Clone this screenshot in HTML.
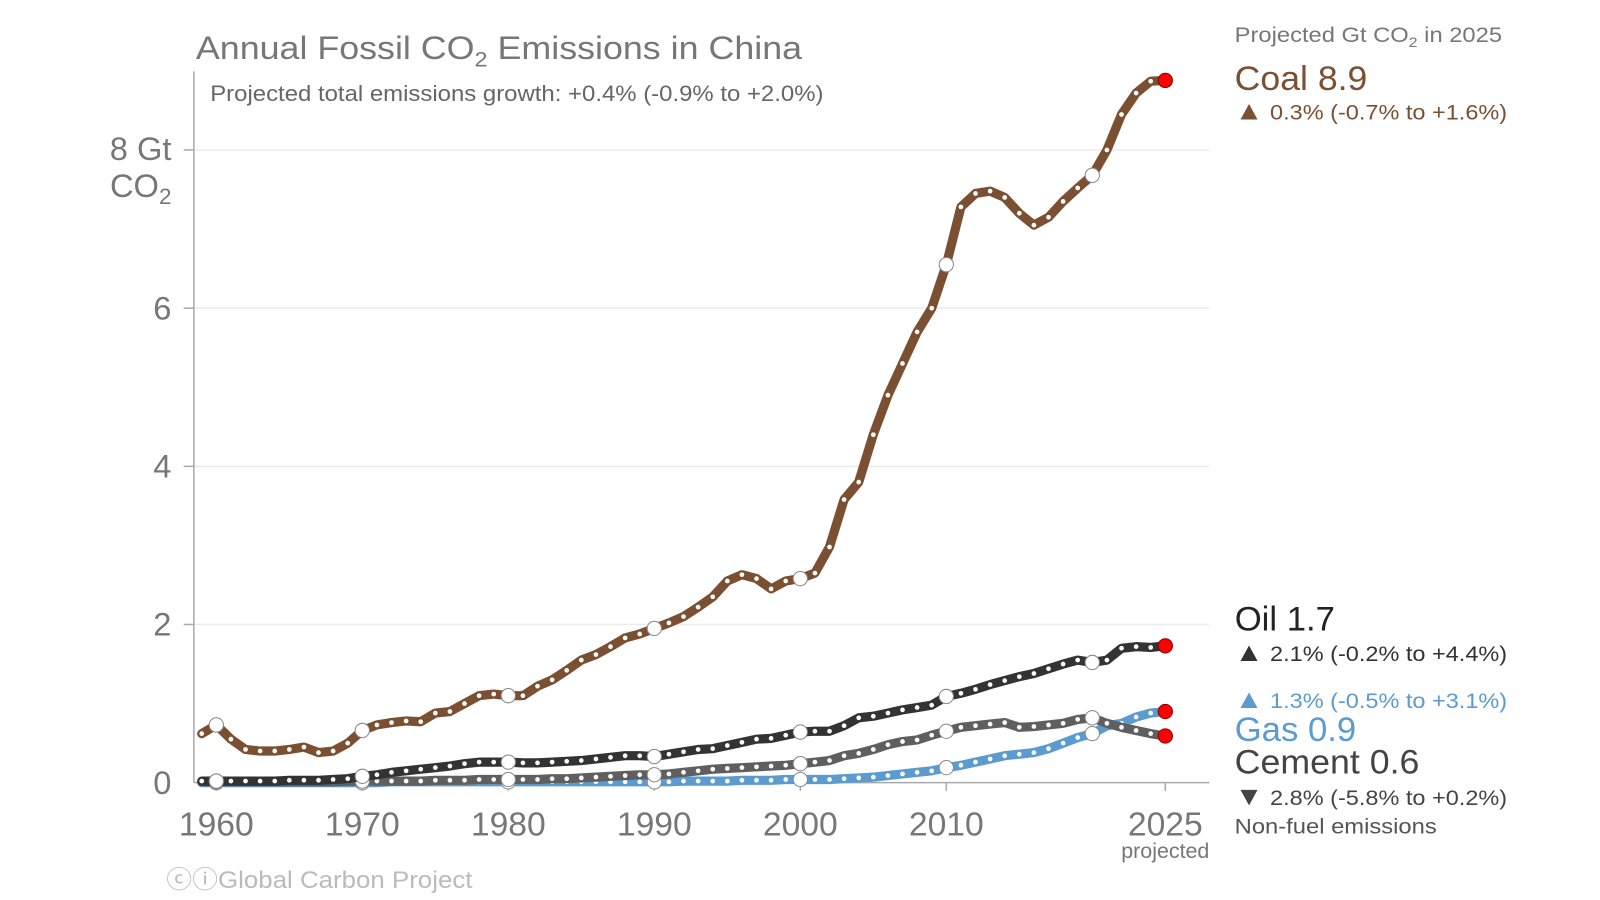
<!DOCTYPE html>
<html><head><meta charset="utf-8"><style>
html,body{margin:0;padding:0;background:#fff;}
svg{display:block;font-family:"Liberation Sans",sans-serif;}
</style></head><body>
<svg id="chart" width="1600" height="900" viewBox="0 0 1568 882">
<g id="grid"></g>
<g id="axes"></g>
<g id="series"></g>
<text x="192" y="58" font-size="32" fill="#777" textLength="594" lengthAdjust="spacingAndGlyphs">Annual Fossil CO<tspan font-size="21" dy="7">2</tspan><tspan dy="-7"> Emissions in China</tspan></text>
<text x="206" y="99" font-size="22" fill="#666" textLength="601" lengthAdjust="spacingAndGlyphs">Projected total emissions growth: +0.4% (-0.9% to +2.0%)</text>
<text x="168" y="157" font-size="32" fill="#777" text-anchor="end">8 Gt</text>
<text x="168" y="193" font-size="32" fill="#777" text-anchor="end">CO<tspan font-size="22" dy="7">2</tspan></text>
<text x="1142" y="841" font-size="21" fill="#777" text-anchor="middle">projected</text>
<text x="163" y="870" font-size="24" fill="#bbb" textLength="300" lengthAdjust="spacingAndGlyphs">ⓒⓘGlobal Carbon Project</text>
<g font-size="21">
<text x="1210" y="41" fill="#777" textLength="262" lengthAdjust="spacingAndGlyphs">Projected Gt CO<tspan font-size="14" dy="5">2</tspan><tspan dy="-5"> in 2025</tspan></text>
<text x="1210" y="88" font-size="34" fill="#7b5032" textLength="130" lengthAdjust="spacingAndGlyphs">Coal 8.9</text>
<text x="1210" y="117" fill="#7b5032" textLength="267" lengthAdjust="spacingAndGlyphs"><tspan font-size="26">▲</tspan> 0.3% (-0.7% to +1.6%)</text>
<text x="1210" y="618" font-size="34" fill="#222">Oil 1.7</text>
<text x="1210" y="648" fill="#333" textLength="267" lengthAdjust="spacingAndGlyphs"><tspan font-size="26">▲</tspan> 2.1% (-0.2% to +4.4%)</text>
<text x="1210" y="694" fill="#5b9bd0" textLength="267" lengthAdjust="spacingAndGlyphs"><tspan font-size="26">▲</tspan> 1.3% (-0.5% to +3.1%)</text>
<text x="1210" y="726" font-size="34" fill="#5b9bd0">Gas 0.9</text>
<text x="1210" y="758" font-size="34" fill="#444" textLength="181" lengthAdjust="spacingAndGlyphs">Cement 0.6</text>
<text x="1210" y="789" fill="#444" textLength="267" lengthAdjust="spacingAndGlyphs"><tspan font-size="26">▼</tspan> 2.8% (-5.8% to +0.2%)</text>
<text x="1210" y="817" fill="#555" textLength="198" lengthAdjust="spacingAndGlyphs">Non-fuel emissions</text>
</g>
</svg>
<script>
const startYear = 1959;
const coal = [.62,.73,.55,.42,.40,.40,.42,.45,.38,.40,.50,
.66,.73,.76,.78,.77,.88,.90,1.0,1.1,1.12,
1.10,1.10,1.22,1.30,1.42,1.55,1.62,1.72,1.83,1.88,
1.95,2.02,2.10,2.22,2.35,2.55,2.63,2.58,2.45,2.55,
2.58,2.65,2.98,3.58,3.80,4.40,4.90,5.30,5.70,6.00,
6.55,7.28,7.45,7.48,7.40,7.20,7.05,7.15,7.35,7.52,
7.68,8.00,8.45,8.72,8.87,8.88];
const oil = [.02,.02,.02,.02,.02,.02,.03,.03,.03,.04,.05,
.08,.10,.13,.15,.17,.19,.21,.24,.26,.26,
.26,.25,.25,.26,.27,.28,.30,.32,.34,.34,
.33,.36,.39,.42,.43,.47,.51,.55,.56,.60,
.64,.65,.65,.72,.82,.84,.88,.92,.95,.98,
1.09,1.13,1.18,1.24,1.29,1.34,1.38,1.44,1.50,1.55,
1.52,1.55,1.70,1.72,1.71,1.73];
const cement = [.01,.01,.01,.01,.01,.01,.01,.01,.01,.01,.02,
.02,.02,.02,.02,.02,.03,.03,.03,.04,.04,
.04,.04,.04,.05,.05,.06,.07,.08,.09,.10,
.10,.11,.13,.15,.17,.18,.19,.20,.21,.22,
.24,.26,.28,.34,.37,.42,.48,.52,.54,.60,
.65,.70,.72,.74,.76,.70,.71,.73,.75,.80,
.82,.75,.70,.66,.62,.59];
const gas = [0,0,0,0,0,0,0,0,0,0,0,
0,0,.01,.01,.01,.01,.01,.01,.01,.01,
.01,.01,.01,.01,.01,.01,.01,.01,.01,.01,
.01,.01,.02,.02,.02,.02,.03,.03,.03,.04,
.04,.04,.04,.05,.06,.07,.09,.11,.13,.15,
.19,.22,.26,.30,.34,.36,.38,.43,.50,.57,
.62,.72,.75,.83,.88,.90];
const yTicks = [0,2,4,6];
const gridTicks = [2,4,6,8];
const xTicks = [1960,1970,1980,1990,2000,2010,2025];

const NS = "http://www.w3.org/2000/svg";
const x = yr => 212 + (yr - 1960) * (1142 - 212) / 65;
const y = v => 767 - v * 77.5;
function mk(tag, attrs, parent){const e=document.createElementNS(NS,tag);for(const k in attrs)e.setAttribute(k,attrs[k]);parent.appendChild(e);return e;}
const grid=document.getElementById('grid'), axes=document.getElementById('axes'), series=document.getElementById('series');

gridTicks.forEach(t=>{
  const l=mk('line',{x1:190,x2:1185,y1:y(t),y2:y(t),stroke:'#ebebeb','stroke-width':1.5},grid);
  
  
  const tk=mk('line',{x1:180,x2:190,y1:y(t),y2:y(t),stroke:'#aaa','stroke-width':1.5},axes);
  
  
});
yTicks.forEach(t=>{
  const tx=mk('text',{x:168,y:y(t)+11,'font-size':32,fill:'#777','text-anchor':'end'},axes);
  tx.textContent=t;
  
  
});
const ya=mk('line',{x1:190,x2:190,y1:70,y2:767,stroke:'#aaa','stroke-width':1.5},axes);


const xa=mk('line',{x1:190,x2:1185,y1:767,y2:767,stroke:'#aaa','stroke-width':1.5},axes);


xTicks.forEach(t=>{
  const tk=mk('line',{x1:x(t),x2:x(t),y1:767,y2:775,stroke:'#aaa','stroke-width':1.5},axes);
  
  
  const tx=mk('text',{x:x(t),y:819,'font-size':33,fill:'#777','text-anchor':'middle'},axes);
  tx.textContent=t;
  
  
});

function drawSeries(name, vals, color){
  const g=mk('g',{},series);
  
  
  const pts=vals.map((v,i)=>x(startYear+i).toFixed(1)+','+y(v).toFixed(1)).join(' ');
  const pl=mk('polyline',{points:pts,fill:'none',stroke:color,'stroke-width':9,'stroke-linejoin':'round','stroke-linecap':'round'},g);
  
  
  vals.forEach((v,i)=>{
    const yr=startYear+i;
    if(yr===2025){
      const c=mk('circle',{cx:x(yr),cy:y(v),r:7,fill:'#f00',stroke:'#800','stroke-width':1},g);
      
      
    } else if(yr%10===0){
      const c=mk('circle',{cx:x(yr),cy:y(v),r:7,fill:'#fff',stroke:'#888','stroke-width':1},g);
      
      
    } else {
      const c=mk('circle',{cx:x(yr),cy:y(v),r:2.3,fill:'#fff'},g);
      
      
    }
  });
}
drawSeries('gas', gas, '#5b9bd0');
drawSeries('cement', cement, '#5f5f5f');
drawSeries('oil', oil, '#333333');
drawSeries('coal', coal, '#7b5032');
</script>
</body></html>
